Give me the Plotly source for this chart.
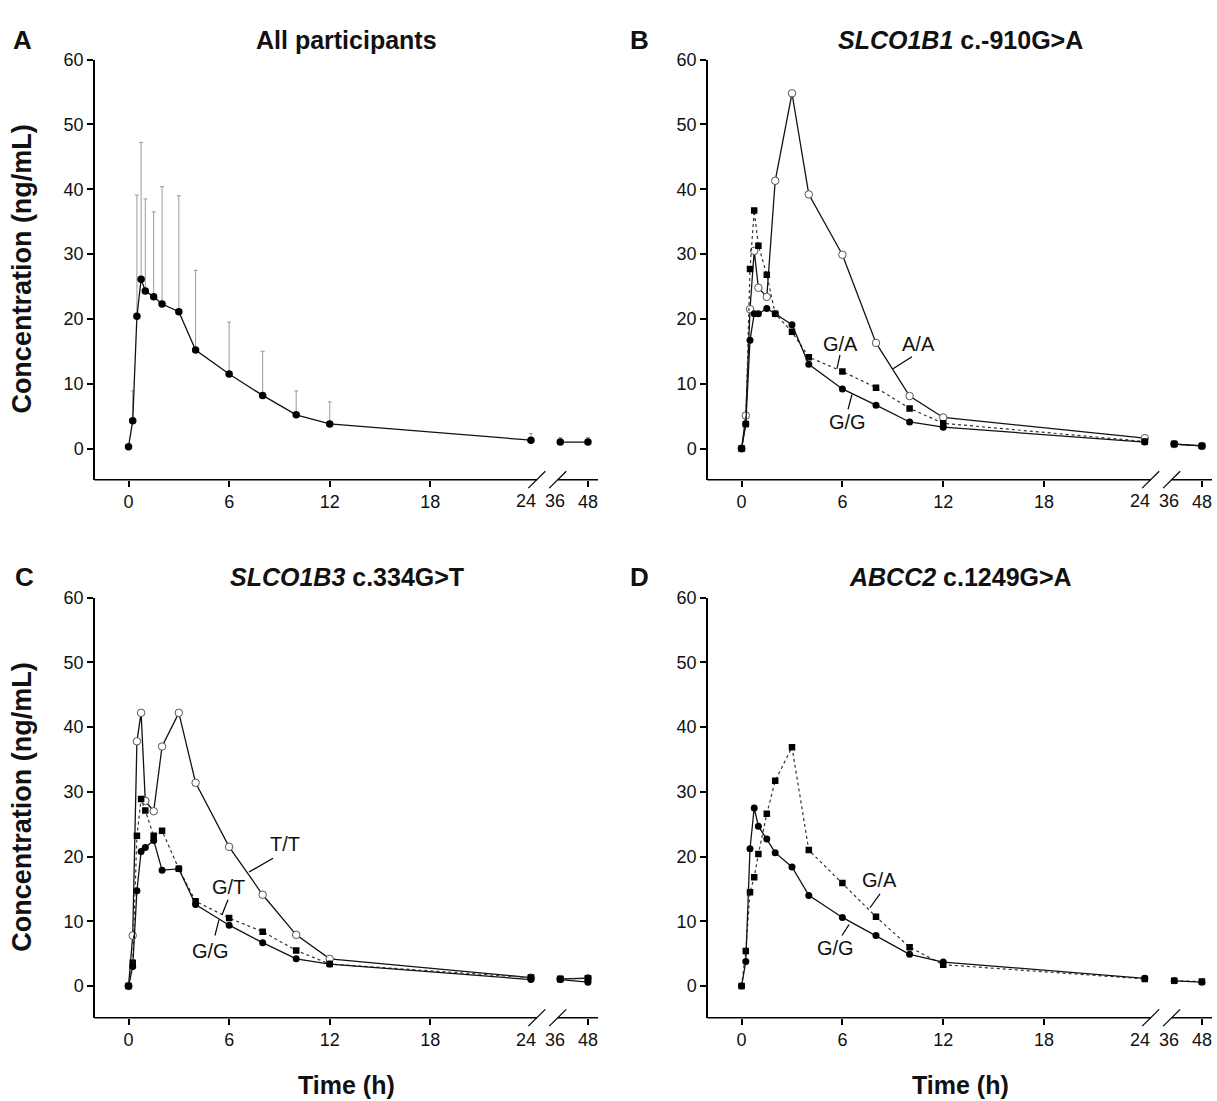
import plotly.graph_objects as go

W, H = 1217, 1101

# ---------------- data ----------------
times = [0, 0.25, 0.5, 0.75, 1, 1.5, 2, 3, 4, 6, 8, 10, 12, 24, 36, 48]

a_all_mean = [0.3, 4.3, 20.4, 26.1, 24.3, 23.4, 22.3, 21.1, 15.2, 11.5, 8.2, 5.2, 3.8, 1.3, 1.0, 1.0]
a_all_sd = [0, 4.6, 18.7, 21.1, 14.2, 13.1, 18.1, 17.9, 12.3, 8.0, 6.8, 3.7, 3.4, 1.0, 0.7, 0.7]

b_gg = [0, 3.8, 16.7, 20.8, 20.8, 21.6, 20.8, 19.1, 13.0, 9.2, 6.7, 4.1, 3.3, 1.0, 0.7, 0.4]
b_ga = [0, 3.8, 27.7, 36.7, 31.3, 26.8, 20.8, 18.0, 14.1, 11.9, 9.4, 6.2, 3.9, 1.1, 0.7, 0.4]
b_aa = [0, 5.1, 21.5, 30.5, 24.8, 23.4, 41.3, 54.8, 39.2, 29.9, 16.3, 8.1, 4.8, 1.6, 0.7, 0.4]

c_gg = [0, 3.0, 14.7, 20.8, 21.4, 22.5, 17.9, 18.1, 12.6, 9.4, 6.7, 4.2, 3.4, 1.0, 1.0, 0.6]
c_gt = [0, 3.6, 23.2, 28.9, 27.1, 23.2, 24.0, 18.1, 13.1, 10.5, 8.4, 5.5, 3.4, 1.3, 1.1, 1.2]
c_tt = [0, 7.8, 37.8, 42.2, 28.6, 27.0, 37.0, 42.2, 31.4, 21.5, 14.1, 7.9, 4.2, 1.3, 1.1, 1.2]

d_gg = [0, 3.8, 21.2, 27.5, 24.7, 22.7, 20.6, 18.4, 14.0, 10.6, 7.8, 4.9, 3.7, 1.2, 0.8, 0.6]
d_ga = [0, 5.4, 14.5, 16.8, 20.4, 26.6, 31.7, 36.9, 21.0, 15.9, 10.7, 6.0, 3.3, 1.1, 0.8, 0.7]

y_ticks = [0, 10, 20, 30, 40, 50, 60]
x_tick_labels = ["0", "6", "12", "18", "24", "36", "48"]

# broken time axis: hours beyond 24 compressed
BREAK_POS = {36: 25.75, 48: 27.4}
XR = [-2, 28]


def xpos(t):
    return BREAK_POS.get(t, t)


def split(vals):
    xs, ys = [], []
    for t, v in zip(times, vals):
        if t == 36:
            xs.append(None)
            ys.append(None)
        xs.append(xpos(t))
        ys.append(v)
    return xs, ys


FONT = "Liberation Sans, Arial, Helvetica, sans-serif"

# panel geometry (pixels)
COLS = {"L": (95, 598), "R": (708, 1212)}
ROWS = {"T": (50, 474, [-4.8, 60]), "B": (593, 1017, [-4.9, 60])}
panels = [("", "L", "T"), ("2", "R", "T"), ("3", "L", "B"), ("4", "R", "B")]


def px(x):
    return x / W


def py(y):
    return 1 - y / H


def data_x_to_pix(col, x):
    x0, x1 = COLS[col]
    return x0 + (x - XR[0]) / (XR[1] - XR[0]) * (x1 - x0)


fig = go.Figure()

SOLID = dict(color="#111111", width=1.3)
DOT = dict(color="#333333", width=1.2, dash="dot")
M_FILL = dict(symbol="circle", size=7, color="black")
M_SQ = dict(symbol="square", size=6.5, color="black")
M_OPEN = dict(symbol="circle", size=7.5, color="white", line=dict(color="#555555", width=1))


def add(vals, axn, line, marker, err=None):
    xs, ys = split(vals)
    kw = {}
    if err is not None:
        _, es = split(err)
        kw["error_y"] = dict(type="data", array=es, arrayminus=[0] * len(es), symmetric=False,
                             color="#9a9a9a", thickness=1, width=2)
    fig.add_trace(go.Scatter(x=xs, y=ys, mode="lines+markers", line=line, marker=marker,
                             connectgaps=False, xaxis="x" + axn, yaxis="y" + axn,
                             hoverinfo="skip", **kw))


# Panel A
add(a_all_mean, "", SOLID, dict(symbol="circle", size=7.5, color="black"), err=a_all_sd)
# Panel B
add(b_aa, "2", SOLID, M_OPEN)
add(b_ga, "2", DOT, M_SQ)
add(b_gg, "2", SOLID, M_FILL)
# Panel C
add(c_tt, "3", SOLID, M_OPEN)
add(c_gt, "3", DOT, M_SQ)
add(c_gg, "3", SOLID, M_FILL)
# Panel D
add(d_ga, "4", DOT, M_SQ)
add(d_gg, "4", SOLID, M_FILL)

layout = dict(width=W, height=H, margin=dict(l=0, r=0, t=0, b=0),
              paper_bgcolor="white", plot_bgcolor="white", showlegend=False,
              font=dict(family=FONT, color="#111111"))

tickfont = dict(family=FONT, size=18, color="#111111")
shapes = []
annotations = []

for axn, col, row in panels:
    x0, x1 = COLS[col]
    top, bot, yr = ROWS[row]
    layout["xaxis" + axn] = dict(domain=[px(x0), px(x1)], range=XR, anchor="y" + axn,
                                 showline=False, showgrid=False, zeroline=False,
                                 ticks="outside", ticklen=6, tickwidth=1.5, tickcolor="black",
                                 tickvals=[0, 6, 12, 18, xpos(48)],
                                 ticktext=[x_tick_labels[i] for i in (0, 1, 2, 3, 6)],
                                 tickfont=tickfont)
    layout["yaxis" + axn] = dict(domain=[py(bot), py(top)], range=yr, anchor="x" + axn,
                                 showline=True, linecolor="black", linewidth=1.5,
                                 showgrid=False, zeroline=False,
                                 ticks="outside", ticklen=6, tickwidth=1.5, tickcolor="black",
                                 tickvals=y_ticks, tickfont=tickfont)
    # broken x-axis line
    b1 = data_x_to_pix(col, 24.35)
    b2 = data_x_to_pix(col, 25.6)
    ln = dict(color="black", width=1.5)
    shapes.append(dict(type="line", xref="paper", yref="paper", x0=px(x0 - 0.7), x1=px(b1),
                       y0=py(bot), y1=py(bot), line=ln))
    shapes.append(dict(type="line", xref="paper", yref="paper", x0=px(b2), x1=px(x1),
                       y0=py(bot), y1=py(bot), line=ln))
    for c in (b1, b2):
        shapes.append(dict(type="line", xref="paper", yref="paper", x0=px(c - 8.5), x1=px(c + 8.5),
                           y0=py(bot + 8.5), y1=py(bot - 8.5), line=dict(color="black", width=1.2)))
    # 24 and 36 labels next to the break
    for lab, xv in (("24", 23.7), ("36", 25.45)):
        annotations.append(dict(text=lab, xref="paper", yref="paper", x=px(data_x_to_pix(col, xv)),
                                y=py(bot + 22), xanchor="center", yanchor="middle", showarrow=False,
                                font=tickfont))

# Y titles
for row in ("T", "B"):
    top, bot, _ = ROWS[row]
    annotations.append(dict(text="<b>Concentration (ng/mL)</b>", xref="paper", yref="paper",
                            x=px(22), y=py((top + bot) / 2), textangle=-90, showarrow=False,
                            xanchor="center", yanchor="middle", font=dict(size=27, family=FONT, color="#111")))
# X titles
for col in ("L", "R"):
    x0, x1 = COLS[col]
    annotations.append(dict(text="<b>Time (h)</b>", xref="paper", yref="paper",
                            x=px((x0 + x1) / 2), y=py(1085), showarrow=False,
                            xanchor="center", yanchor="middle", font=dict(size=25, family=FONT, color="#111")))

# Panel letters and titles
letters = [("A", 22, 30), ("B", 639, 30), ("C", 24, 572), ("D", 639, 572)]
for t, xx, yy in letters:
    annotations.append(dict(text="<b>" + t + "</b>", xref="paper", yref="paper", x=px(xx), y=py(yy),
                            showarrow=False, xanchor="center", yanchor="middle",
                            font=dict(size=26, family=FONT, color="#111")))
titles = [("<b>All participants</b>", "L", 30),
          ("<b><i>SLCO1B1</i> c.-910G&gt;A</b>", "R", 30),
          ("<b><i>SLCO1B3</i> c.334G&gt;T</b>", "L", 572),
          ("<b><i>ABCC2</i> c.1249G&gt;A</b>", "R", 572)]
for t, col, yy in titles:
    x0, x1 = COLS[col]
    annotations.append(dict(text=t, xref="paper", yref="paper", x=px((x0 + x1) / 2), y=py(yy),
                            showarrow=False, xanchor="center", yanchor="middle",
                            font=dict(size=25, family=FONT, color="#111")))

# Genotype labels and leader lines (pixel positions)
glabels = [("G/A", 840, 337), ("A/A", 918, 337), ("G/G", 847, 416),
           ("T/T", 285, 842), ("G/T", 228, 885), ("G/G", 210, 950),
           ("G/A", 880, 878), ("G/G", 835, 947)]
for t, xx, yy in glabels:
    annotations.append(dict(text=t, xref="paper", yref="paper", x=px(xx), y=py(yy),
                            showarrow=False, xanchor="center", yanchor="middle",
                            font=dict(size=20, family=FONT, color="#111")))
leaders = [((840, 348), (837, 362)), ((912, 350), (893, 362)), ((852, 388), (848, 403)),
           ((273, 856), (249, 870)), ((228, 898), (222, 913)), ((219, 918), (215, 934)),
           ((880, 892), (870, 906)), ((849, 923), (842, 934))]
for (ax, ay), (bx, by) in leaders:
    shapes.append(dict(type="line", xref="paper", yref="paper", x0=px(ax), y0=py(ay),
                       x1=px(bx), y1=py(by), line=dict(color="black", width=1.2)))

layout["shapes"] = shapes
layout["annotations"] = annotations
fig.update_layout(**layout)

fig.write_html("out.html", config={"displayModeBar": False},
               post_script="document.body.style.margin='0px';document.body.style.overflow='hidden';")
